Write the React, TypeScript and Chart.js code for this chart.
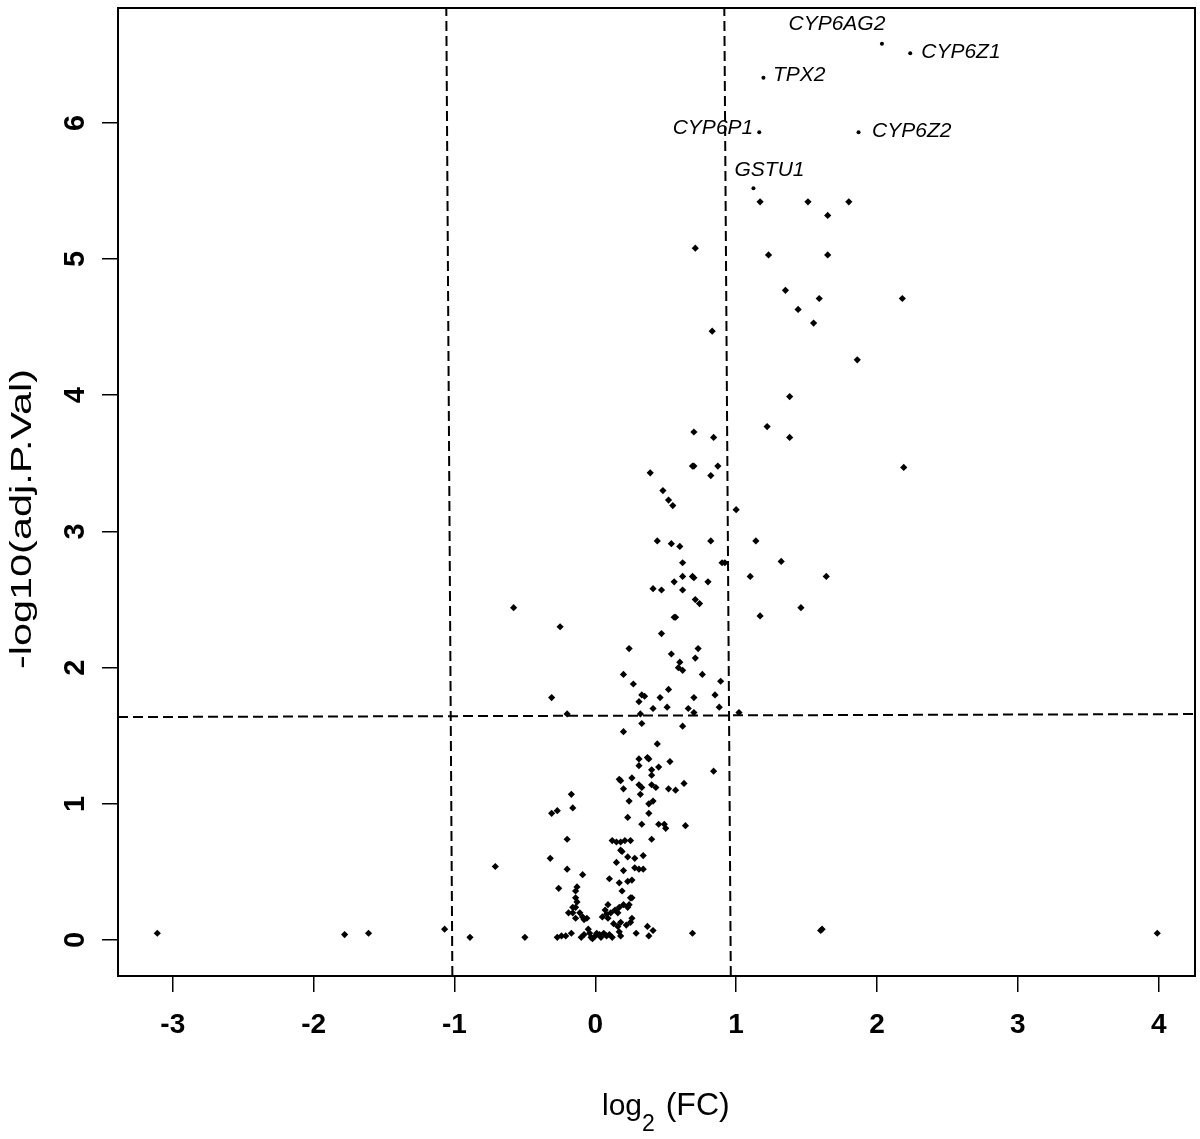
import React, { useEffect, useRef } from "react";
import Chart from "chart.js/auto";

// ---- data ----
const log2FC = [
  1.17, 1.51, 1.80, 1.65, 0.71, 1.23, 1.65, 1.35, 1.59, 2.18, 1.44, 1.55, 0.83, 1.86, 1.38, 1.22, 0.70, 1.38, 0.84,
  0.69, 0.70, 0.87, 0.39, 0.82, 2.19, 0.48, 0.52, 0.55, 1.00, 0.44, 0.54, 0.60, 0.82, 1.14, 0.62, 0.90, 0.92, 1.32,
  0.62, 0.69, 0.70, 0.56, 0.80, 1.10, 1.64, 0.41, 0.47, 0.62, 0.71, 0.74, 1.46, 1.17, 0.56, 0.57, -0.25, 0.47, 0.24,
  0.73, 0.54, 0.71, 0.60, 0.59, 0.62, 0.20, 0.76, -0.58, 0.89, 0.27, -0.31, 0.33, 0.35, 0.31, 0.46, 0.52, 0.51, 0.41,
  0.70, 0.85, 0.88, 0.66, 0.70, 0.32, -0.20, 1.02, 0.33, 0.20, 0.62, 0.44, 0.31, 0.37, 0.38, 0.31, 0.45, 0.40, 0.40,
  0.53, 0.84, 0.17, 0.18, 0.26, 0.20, 0.31, 0.33, 0.40, 0.43, 0.52, 0.57, 0.63, 0.32, -0.17, 0.24, 0.41, 0.38, -0.16,
  -0.31, -0.27, 0.38, 0.23, 0.33, 0.45, 0.49, 0.50, 0.64, -0.20, 0.12, 0.15, 0.18, 0.21, 0.25, 0.40, 0.18, 0.19, 0.23,
  0.28, 0.34, 0.15, -0.32, 0.28, 0.31, 0.34, -0.71, -0.20, 0.20, -0.09, 0.10, 0.17, 0.23, 0.26, -0.26, -0.13, -0.14,
  0.19, 0.26, -0.14, -0.13, -0.16, -0.14, -0.19, -0.16, -0.11, -0.14, -0.09, -0.08, -0.06, 0.09, 0.07, 0.05, 0.08,
  0.09, 0.11, 0.14, 0.17, 0.16, 0.20, 0.23, 0.24, 0.25, 0.26, 0.25, 0.22, 0.18, 0.16, 0.13, -0.27, -0.24, -0.21, -0.17,
  -0.10, -0.08, -0.05, -0.04, -0.03, -0.02, 0.00, 0.01, 0.03, 0.04, 0.06, 0.08, 0.10, 0.12, 0.17, 0.18, 0.29, 0.37,
  0.38, 0.41, 0.69, -1.07, -0.89, -0.50, -3.11, -1.78, -1.61, 1.60, 1.61, 3.99,
];
const negLog10AdjP = [
  5.42, 5.42, 5.42, 5.32, 5.08, 5.03, 5.03, 4.77, 4.71, 4.71, 4.63, 4.53, 4.47, 4.26, 3.99, 3.77, 3.73, 3.69, 3.69,
  3.48, 3.48, 3.48, 3.43, 3.41, 3.47, 3.30, 3.23, 3.19, 3.16, 2.93, 2.91, 2.89, 2.93, 2.93, 2.77, 2.77, 2.77, 2.78,
  2.67, 2.67, 2.66, 2.63, 2.63, 2.67, 2.67, 2.58, 2.57, 2.57, 2.50, 2.47, 2.44, 2.38, 2.37, 2.37, 2.30, 2.25, 2.14,
  2.14, 2.10, 2.07, 2.04, 2.00, 1.98, 1.95, 1.95, 2.44, 1.90, 1.88, 1.78, 1.80, 1.79, 1.75, 1.78, 1.84, 1.71, 1.70,
  1.78, 1.80, 1.71, 1.70, 1.67, 1.66, 1.66, 1.67, 1.59, 1.53, 1.57, 1.44, 1.33, 1.34, 1.33, 1.28, 1.27, 1.25, 1.21,
  1.31, 1.24, 1.18, 1.17, 1.19, 1.11, 1.14, 1.12, 1.14, 1.12, 1.11, 1.10, 1.15, 1.07, 1.07, 1.02, 1.02, 1.00, 0.97,
  0.93, 0.95, 0.93, 0.90, 0.85, 0.85, 0.85, 0.82, 0.84, 0.74, 0.73, 0.72, 0.72, 0.73, 0.73, 0.74, 0.66, 0.65, 0.61,
  0.60, 0.62, 0.57, 0.60, 0.53, 0.52, 0.52, 0.54, 0.52, 0.51, 0.48, 0.45, 0.42, 0.43, 0.44, 0.38, 0.39, 0.36,
  0.36, 0.31, 0.31, 0.28, 0.24, 0.24, 0.20, 0.20, 0.20, 0.16, 0.17, 0.15, 0.16, 0.26, 0.22, 0.17, 0.19,
  0.16, 0.20, 0.22, 0.24, 0.20, 0.26, 0.24, 0.26, 0.31, 0.16, 0.13, 0.11, 0.13, 0.10, 0.12, 0.02, 0.03, 0.03, 0.05,
  0.02, 0.04, 0.08, 0.05, 0.02, 0.01, 0.03, 0.05, 0.04, 0.02, 0.05, 0.03, 0.04, 0.02, 0.06, 0.03, 0.05, 0.10,
  0.03, 0.07, 0.05, 0.08, 0.02, 0.02, 0.05, 0.04, 0.05, 0.07, 0.08, 0.05,
];

const geneNames = ["CYP6AG2", "CYP6Z1", "TPX2", "CYP6P1", "CYP6Z2", "GSTU1"];
const geneFC = [2.035, 2.236, 1.194, 1.164, 1.869, 1.123];
const geneNegLog10P = [6.58, 6.51, 6.33, 5.93, 5.93, 5.52];

const xTickValues = [-3, -2, -1, 0, 1, 2, 3, 4];
const yTickValues = [0, 1, 2, 3, 4, 5, 6];

// threshold lines (ends slightly tilted in the scanned figure)
const pValueCut = [1.637, 1.659]; // at left edge, at right edge
const fcLowCut = [-1.015, -1.058]; // at bottom, at top
const fcHighCut = [0.962, 0.916]; // at bottom, at top

const X_TITLE = "log";
const X_TITLE_SUB = "2";
const X_TITLE_REST = " (FC)";
const Y_TITLE = "-log10(adj.P.Val)";

// ---- styling (not data) ----
const FONT = "'Liberation Sans', Arial, Helvetica, sans-serif";
const LABEL_PLACE: Record<string, { align: CanvasTextAlign; dx: number; dy: number }> = {
  CYP6AG2: { align: "center", dx: -45, dy: -20 },
  CYP6Z1: { align: "left", dx: 11, dy: -1 },
  TPX2: { align: "left", dx: 9.5, dy: -3 },
  CYP6P1: { align: "right", dx: -6, dy: -4.5 },
  CYP6Z2: { align: "left", dx: 13.5, dy: -1 },
  GSTU1: { align: "center", dx: 16, dy: -18 },
};

const decorPlugin = {
  id: "decor",
  afterDatasetsDraw(chart: any) {
    const { ctx, chartArea } = chart;
    const xs = chart.scales.x;
    const ys = chart.scales.y;
    const { left, right, top, bottom } = chartArea;
    ctx.save();
    // dashed threshold lines
    ctx.strokeStyle = "#000";
    ctx.lineWidth = 2;
    ctx.setLineDash([10, 5]);
    ctx.beginPath();
    ctx.moveTo(left, ys.getPixelForValue(pValueCut[0]));
    ctx.lineTo(right, ys.getPixelForValue(pValueCut[1]));
    ctx.moveTo(xs.getPixelForValue(fcLowCut[0]), bottom);
    ctx.lineTo(xs.getPixelForValue(fcLowCut[1]), top);
    ctx.moveTo(xs.getPixelForValue(fcHighCut[0]), bottom);
    ctx.lineTo(xs.getPixelForValue(fcHighCut[1]), top);
    ctx.stroke();
    ctx.setLineDash([]);
    // box
    ctx.lineWidth = 2;
    ctx.strokeRect(left, top, right - left, bottom - top);
    // gene labels
    ctx.fillStyle = "#000";
    ctx.font = `italic 21px ${FONT}`;
    ctx.textBaseline = "middle";
    geneNames.forEach((g, i) => {
      const p = LABEL_PLACE[g];
      const px = xs.getPixelForValue(geneFC[i]);
      const py = ys.getPixelForValue(geneNegLog10P[i]);
      ctx.textAlign = p.align;
      ctx.fillText(g, px + p.dx, py + p.dy);
    });
    ctx.restore();
  },
  afterDraw(chart: any) {
    const { ctx } = chart;
    const ys = chart.scales.y;
    ctx.save();
    ctx.fillStyle = "#000";
    // rotated y tick labels
    ctx.font = `bold 29px ${FONT}`;
    ctx.textAlign = "center";
    ctx.textBaseline = "middle";
    yTickValues.forEach((v) => {
      const py = ys.getPixelForValue(v);
      ctx.save();
      ctx.translate(76, py);
      ctx.rotate(-Math.PI / 2);
      ctx.fillText(String(v), 0, 0);
      ctx.restore();
    });
    // y title
    ctx.save();
    ctx.font = `29px ${FONT}`;
    const w = ctx.measureText(Y_TITLE).width;
    ctx.translate(23, 519);
    ctx.rotate(-Math.PI / 2);
    ctx.scale(300 / w, 1);
    ctx.fillText(Y_TITLE, 0, 0);
    ctx.restore();
    // x title with subscript
    ctx.textAlign = "left";
    ctx.textBaseline = "alphabetic";
    let x = 602;
    const base = 1115;
    ctx.font = `30px ${FONT}`;
    ctx.fillText(X_TITLE, x, base);
    x += ctx.measureText(X_TITLE).width;
    ctx.font = `23px ${FONT}`;
    ctx.fillText(X_TITLE_SUB, x, base + 16);
    x += ctx.measureText(X_TITLE_SUB).width + 2;
    ctx.font = `32px ${FONT}`;
    ctx.fillText(X_TITLE_REST, x, base);
    ctx.restore();
  },
};

export default function App() {
  const ref = useRef<HTMLCanvasElement | null>(null);
  useEffect(() => {
    if (!ref.current) return;
    const tickGrid = {
      drawOnChartArea: false,
      drawTicks: true,
      tickLength: 16,
      color: "#000",
      lineWidth: 1.5,
    };
    const chart = new Chart(ref.current, {
      type: "scatter",
      data: {
        datasets: [
          {
            data: log2FC.map((x, i) => ({ x, y: negLog10AdjP[i] })),
            pointStyle: "rectRot",
            pointRadius: 3.6,
            backgroundColor: "#000",
            borderWidth: 0,
          },
          {
            data: geneFC.map((x, i) => ({ x, y: geneNegLog10P[i] })),
            pointStyle: "circle",
            pointRadius: 2,
            backgroundColor: "#000",
            borderWidth: 0,
          },
        ],
      },
      options: {
        animation: false,
        responsive: false,
        devicePixelRatio: 1,
        layout: { padding: { left: 0, right: 5, top: 8, bottom: 0 } },
        plugins: { legend: { display: false }, tooltip: { enabled: false } },
        scales: {
          x: {
            type: "linear",
            min: -3.389,
            max: 4.258,
            afterBuildTicks: (s: any) => {
              s.ticks = xTickValues.map((v) => ({ value: v }));
            },
            afterFit: (s: any) => {
              s.height = 163;
            },
            grid: tickGrid,
            border: { display: true, color: "#000", width: 2 },
            ticks: {
              color: "#000",
              font: { family: FONT, size: 28, weight: "bold" },
              padding: 16,
              maxRotation: 0,
              autoSkip: false,
            },
          },
          y: {
            type: "linear",
            min: -0.264,
            max: 6.843,
            afterBuildTicks: (s: any) => {
              s.ticks = yTickValues.map((v) => ({ value: v }));
            },
            afterFit: (s: any) => {
              s.width = 118;
            },
            grid: tickGrid,
            border: { display: true, color: "#000", width: 2 },
            ticks: { display: false },
          },
        },
      },
      plugins: [decorPlugin],
    } as any);
    return () => chart.destroy();
  }, []);
  return (
    <div style={{ position: "absolute", left: 0, top: 0, width: 1200, height: 1139, background: "#fff" }}>
      <canvas ref={ref} width={1200} height={1139} style={{ display: "block" }} />
    </div>
  );
}
